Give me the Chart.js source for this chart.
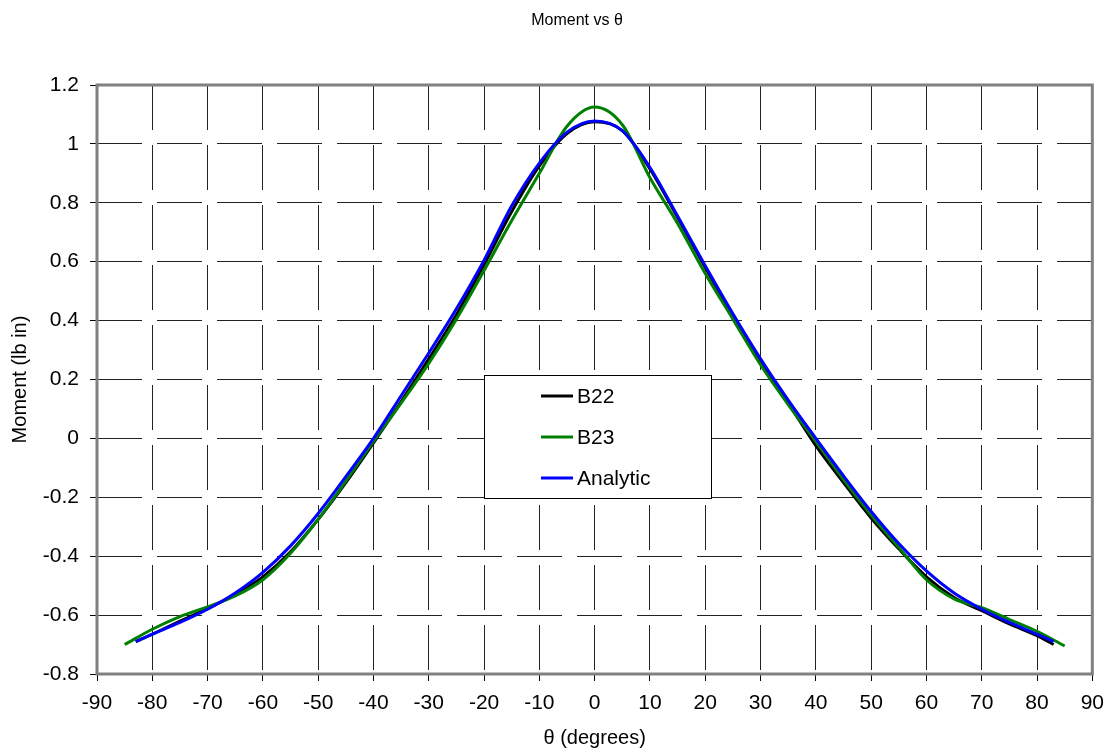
<!DOCTYPE html>
<html>
<head>
<meta charset="utf-8">
<title>Moment vs θ</title>
<script src="https://cdn.jsdelivr.net/npm/chart.js@4.4.1/dist/chart.umd.min.js"></script>
<style>
  html, body { margin: 0; padding: 0; background: #fff; }
  #wrap { width: 1114px; height: 753px; }
</style>
</head>
<body>
<div id="wrap"><canvas id="chart" width="1114" height="753"></canvas></div>
<script>
// Moment vs theta — three curves
const FONT = "'Liberation Sans', Arial, sans-serif";

const thetaB22 = [-83, -80, -75, -70, -65, -60, -55, -50, -45, -40, -35, -30, -25, -20, -15, -10, -5, 0,
  5, 10, 15, 20, 25, 30, 35, 40, 45, 50, 55, 60, 65, 70, 75, 80, 83];
const momentB22 = [-0.69, -0.665, -0.62, -0.578, -0.53, -0.47, -0.385, -0.275, -0.15, -0.015, 0.125, 0.27,
  0.42, 0.59, 0.77, 0.925, 1.035, 1.075, 1.045, 0.915, 0.75, 0.58, 0.415, 0.26, 0.12, -0.025, -0.15,
  -0.27, -0.375, -0.47, -0.54, -0.585, -0.63, -0.67, -0.70];

const thetaB23 = [-85, -80, -75, -70, -65, -60, -55, -50, -45, -40, -35, -30, -25, -20, -15, -10, -5, 0,
  5, 10, 15, 20, 25, 30, 35, 40, 45, 50, 55, 60, 65, 70, 75, 80, 85];
const momentB23 = [-0.70, -0.648, -0.605, -0.572, -0.535, -0.48, -0.39, -0.275, -0.145, -0.01, 0.12, 0.255,
  0.405, 0.57, 0.74, 0.90, 1.06, 1.125, 1.065, 0.885, 0.73, 0.56, 0.405, 0.25, 0.115, -0.01, -0.14,
  -0.26, -0.37, -0.48, -0.545, -0.575, -0.615, -0.655, -0.705];

const thetaAnalytic = [-83, -80, -75, -70, -65, -60, -55, -50, -45, -40, -35, -30, -25, -20, -15, -10, -5, 0,
  5, 10, 15, 20, 25, 30, 35, 40, 45, 50, 55, 60, 65, 70, 75, 80, 83];
const momentAnalytic = [-0.69, -0.665, -0.625, -0.58, -0.525, -0.455, -0.365, -0.255, -0.13, 0.0, 0.145, 0.29,
  0.44, 0.605, 0.79, 0.935, 1.04, 1.078, 1.045, 0.92, 0.755, 0.586, 0.423, 0.27, 0.13, 0.0, -0.127,
  -0.248, -0.357, -0.45, -0.525, -0.58, -0.625, -0.665, -0.69];

const xTicks = [-90, -80, -70, -60, -50, -40, -30, -20, -10, 0, 10, 20, 30, 40, 50, 60, 70, 80, 90];
const yTicks = [-0.8, -0.6, -0.4, -0.2, 0, 0.2, 0.4, 0.6, 0.8, 1, 1.2];

function points(xs, ys) {
  return xs.map(function (x, i) { return { x: x, y: ys[i] }; });
}

function series(label, xs, ys, color, order) {
  return {
    label: label,
    data: points(xs, ys),
    borderColor: color,
    backgroundColor: color,
    borderWidth: 3,
    pointRadius: 0,
    cubicInterpolationMode: 'monotone',
    fill: false,
    order: order
  };
}

// title drawn by hand, it sits a little left of the plot centre
const titlePlugin = {
  id: 'titleText',
  afterDraw(chart) {
    const ctx = chart.ctx;
    ctx.save();
    ctx.font = '16px ' + FONT;
    ctx.fillStyle = '#000';
    ctx.textAlign = 'center';
    ctx.textBaseline = 'middle';
    ctx.fillText('Moment vs θ', 577, 21);
    ctx.restore();
  }
};

// boxed legend inside the plot area + grey plot border
const boxLegend = {
  id: 'boxLegend',
  afterDraw(chart) {
    const ctx = chart.ctx;
    const a = chart.chartArea;
    ctx.save();
    ctx.strokeStyle = '#808080';
    ctx.lineWidth = 3;
    ctx.strokeRect(a.left, a.top, a.right - a.left, a.bottom - a.top);

    ctx.fillStyle = '#fff';
    ctx.fillRect(484, 375, 227, 123);
    ctx.strokeStyle = '#000';
    ctx.lineWidth = 1;
    ctx.strokeRect(484.5, 375.5, 227, 123);

    ctx.font = '21px ' + FONT;
    ctx.textBaseline = 'middle';
    ctx.textAlign = 'left';
    const rows = [chart.data.datasets[0], chart.data.datasets[1], chart.data.datasets[2]];
    rows.forEach(function (ds, i) {
      const y = 396 + i * 41;
      ctx.strokeStyle = ds.borderColor;
      ctx.lineWidth = 3;
      ctx.beginPath();
      ctx.moveTo(541, y);
      ctx.lineTo(573, y);
      ctx.stroke();
      ctx.fillStyle = '#000';
      ctx.fillText(ds.label, 577, y + 1);
    });
    ctx.restore();
  }
};

const gridOpts = {
  color: '#222',
  lineWidth: 1,
  tickLength: 7,
  tickColor: '#000',
  tickBorderDash: []
};

new Chart(document.getElementById('chart'), {
  type: 'line',
  data: {
    datasets: [
      series('B22', thetaB22, momentB22, '#000000', 2),
      series('B23', thetaB23, momentB23, '#008000', 1),
      series('Analytic', thetaAnalytic, momentAnalytic, '#0000ff', 0)
    ]
  },
  plugins: [titlePlugin, boxLegend],
  options: {
    responsive: false,
    animation: false,
    layout: { padding: { top: 85, right: 17, left: 0, bottom: 0 } },
    plugins: {
      legend: { display: false },
      title: { display: false },
      tooltip: { enabled: false }
    },
    scales: {
      x: {
        type: 'linear',
        min: -90,
        max: 90,
        afterBuildTicks(scale) { scale.ticks = xTicks.map(function (v) { return { value: v }; }); },
        afterFit(scale) { scale.height = 79; },
        border: { display: false, dash: [45, 15] },
        grid: gridOpts,
        ticks: {
          color: '#000',
          padding: 10,
          maxRotation: 0,
          autoSkip: false,
          font: { family: FONT, size: 21 }
        },
        title: {
          display: true,
          text: 'θ (degrees)',
          color: '#000',
          font: { family: FONT, size: 20 },
          padding: { top: 0, bottom: 3 }
        }
      },
      y: {
        min: -0.8,
        max: 1.2,
        afterBuildTicks(scale) { scale.ticks = yTicks.map(function (v) { return { value: v }; }); },
        afterFit(scale) { scale.width = 97; },
        border: { display: false, dash: [45, 15] },
        grid: gridOpts,
        ticks: {
          color: '#000',
          padding: 11,
          autoSkip: false,
          font: { family: FONT, size: 21 },
          callback: function (v) { return String(Number(v.toFixed(1))); }
        },
        title: {
          display: true,
          text: 'Moment (lb in)',
          color: '#000',
          font: { family: FONT, size: 20 },
          padding: { top: 8, bottom: 0 }
        }
      }
    }
  }
});
</script>
</body>
</html>
